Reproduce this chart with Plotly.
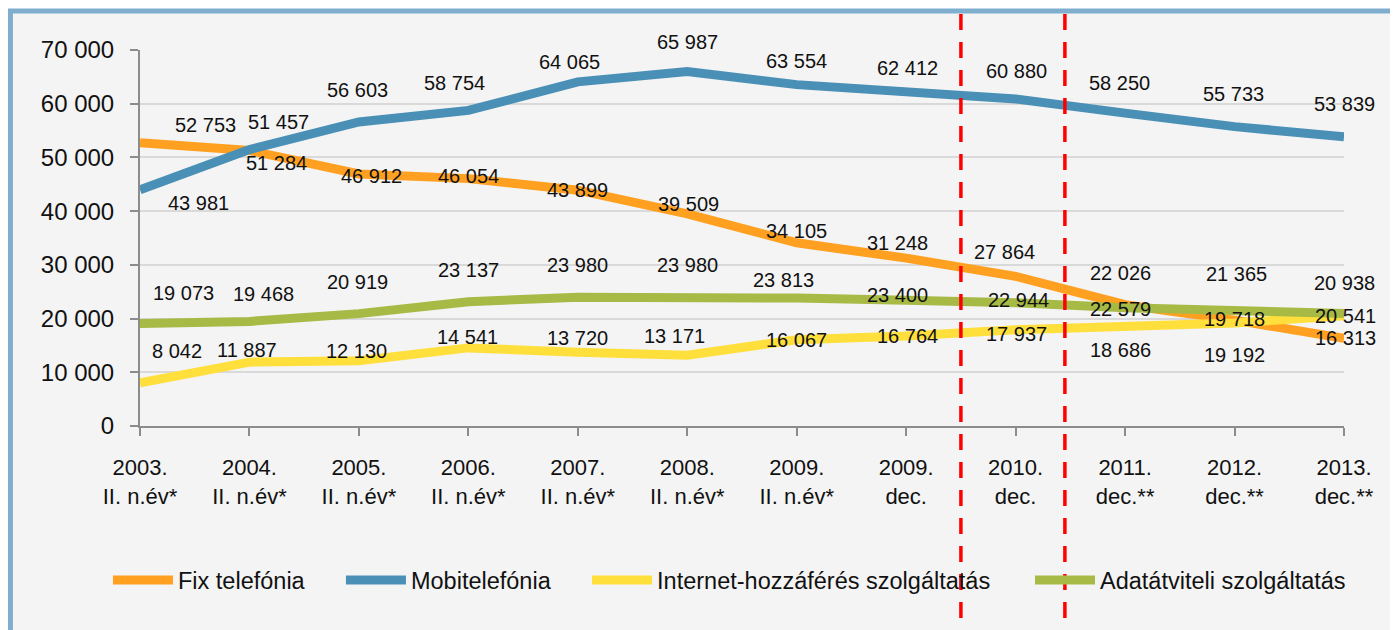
# -*- coding: utf-8 -*-
# Elofizetok szama szolgaltatasonkent, 2003-2013

import plotly.graph_objects as go

#%% Data
categories = ["2003.<br>II. n.év*", "2004.<br>II. n.év*", "2005.<br>II. n.év*",
              "2006.<br>II. n.év*", "2007.<br>II. n.év*", "2008.<br>II. n.év*",
              "2009.<br>II. n.év*", "2009.<br>dec.", "2010.<br>dec.",
              "2011.<br>dec.**", "2012.<br>dec.**", "2013.<br>dec.**"]

fix = [52753, 51284, 46912, 46054, 43899, 39509, 34105, 31248, 27864, 22579, 19718, 16313]
mobil = [43981, 51457, 56603, 58754, 64065, 65987, 63554, 62412, 60880, 58250, 55733, 53839]
internet = [8042, 11887, 12130, 14541, 13720, 13171, 16067, 16764, 17937, 18686, 19192, 20541]
adat = [19073, 19468, 20919, 23137, 23980, 23980, 23813, 23400, 22944, 22026, 21365, 20938]

names = ["Fix telefónia", "Mobitelefónia", "Internet-hozzáférés szolgáltatás",
         "Adatátviteli szolgáltatás"]

#%% Style
colors = ["#FFA020", "#4A90B6", "#FFDF3C", "#A7BA45"]
font = "Liberation Sans, Arial, sans-serif"

# label offsets in px (dx right, dy down) - hand placed like in the excel original
label_dx = [
    [65, 27, 13, 0, 0, 1, 0, -9, -11, -5, 0, 1],
    [58, 29, -1, -14, -8, 0, 0, 1, 1, -6, -1, 0],
    [37, -2, -2, -1, 0, -13, 0, 1, 1, -5, 0, 1],
    [43, 14, -1, 0, 0, 0, -13, -9, 3, -5, 2, 0],
]
label_dy = [
    [-18, 12, 2, -3, 0, -10, -12, -15, -24, 4, -1, 0],
    [13, -28, -32, -27, -20, -30, -24, -23, -28, -30, -33, -33],
    [-32, -12, -10, -11, -14, -19, 0, 0, 4, 24, 32, 0],
    [-31, -27, -32, -32, -32, -32, -18, -5, -3, -35, -37, -31],
]

# one legend per series so each entry sits where it is in the original
legend_x = [-0.0266, 0.1669, 0.3713, 0.7392]

#%% Plot
fig = go.Figure()
series = [fix, mobil, internet, adat]
legend_ids = ["legend", "legend2", "legend3", "legend4"]

for k in range(len(series)):
    fig.add_trace(go.Scatter(x=categories, y=series[k], name=names[k],
                             mode="lines",
                             line=dict(color=colors[k], width=9),
                             cliponaxis=False, legend=legend_ids[k]))

annots = []
for k in range(len(series)):
    for i in range(len(categories)):
        v = series[k][i]
        annots.append(dict(x=categories[i], y=v, xref="x", yref="y",
                           text=f"{v:,}".replace(",", " "),
                           showarrow=False,
                           xshift=label_dx[k][i], yshift=-label_dy[k][i],
                           font=dict(family=font, size=20, color="#111111")))

shapes = [
    # frame
    dict(type="rect", xref="paper", yref="paper", layer="below",
         x0=-0.1076, x1=1.1, y0=1.1037, y1=-0.6,
         fillcolor="#F4F4F4", line=dict(color="#80AECF", width=5)),
]
for xpos in [7.5, 8.45]:
    shapes.append(dict(type="line", xref="x", yref="paper",
                       x0=xpos, x1=xpos, y0=1.096, y1=-0.55, layer="above",
                       line=dict(color="#FF0000", width=3.5, dash="16px,12px")))

# page has an 8px body margin, so the figure is 8px smaller and shifted
fig.update_layout(
    width=1390, height=622,
    margin=dict(l=132, r=54, t=42, b=204),
    paper_bgcolor="white",
    plot_bgcolor="rgba(0,0,0,0)",
    separators=", ",
    font=dict(family=font, color="#111111"),
    annotations=annots,
    shapes=shapes,
    showlegend=True,
)
for k in range(len(legend_ids)):
    fig.update_layout({legend_ids[k]: dict(
        orientation="h", x=legend_x[k], xanchor="left", y=-0.41, yanchor="middle",
        font=dict(size=23.5, family=font, color="#111111"),
        bgcolor="rgba(0,0,0,0)", itemwidth=60)})

fig.update_xaxes(range=[0, 11], showgrid=False,
                 showline=True, linecolor="#8C8C8C", linewidth=2,
                 ticks="outside", ticklen=8, tickcolor="#8C8C8C", tickwidth=2,
                 ticklabelstandoff=13,
                 tickfont=dict(size=22, family=font))
fig.update_yaxes(range=[0, 70000], dtick=10000, tickformat=",d",
                 showgrid=True, gridcolor="#D9D9D9", gridwidth=2,
                 showline=True, linecolor="#8C8C8C", linewidth=2,
                 ticks="outside", ticklen=8, tickcolor="#8C8C8C", tickwidth=2,
                 ticklabelstandoff=11, zeroline=False,
                 tickfont=dict(size=24, family=font))

fig.write_html("out.html")
